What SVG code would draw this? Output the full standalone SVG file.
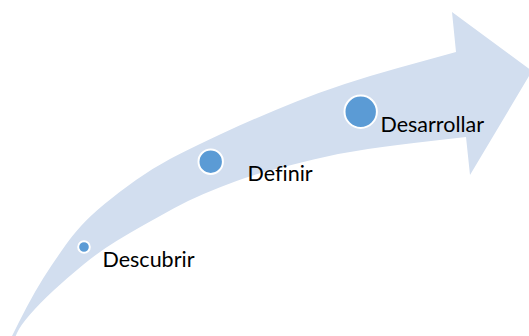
<svg xmlns="http://www.w3.org/2000/svg" width="529" height="336" viewBox="0 0 529 336">
<style>
.band{fill:#D2DEEF;stroke:none}
.dot{fill:#5B9BD5;stroke:#FFFFFF;stroke-width:2}
.lbl{font-family:Lato,"Open Sans","Liberation Sans",sans-serif;font-size:21.5px;fill:#000000;font-variant-ligatures:none;font-feature-settings:"liga" 0}
</style>
<rect width="529" height="336" fill="#FFFFFF"/>
<g id="arrow">
<path class="band" d="M10,340 L18.5,323 Q27,306 35,292 Q43,278 51.5,265.5 Q60,253 66,244.5 Q72,236 81,226 Q90,216 104.5,204 Q119,192 136,180 Q153,168 170,159 Q187,150 220,134.5 Q253,119 296.5,101.5 Q340,84 398,68 L456,52 L452,12 L532,71 L470,175 L466,137 L431,141 Q396,145 368,149 Q340,153 313.5,159.5 Q287,166 270,170.5 Q253,175 236.5,181 Q220,187 203.5,194 Q187,201 173.5,208.5 Q160,216 146.5,223.5 Q133,231 116.5,241 Q100,251 83.5,264.5 Q67,278 53.5,290.5 Q40,303 30,314.5 Q20,326 17,333 L14,340 Z"/>
</g>
<g id="connectors"></g>
<g id="descubrir">
<circle class="dot" cx="84" cy="247" r="5.8"/>
<text class="lbl" x="102.5" y="266.7">Descubrir</text>
</g>
<g id="definir">
<circle class="dot" cx="210.7" cy="161.7" r="12.2"/>
<text class="lbl" x="247.5" y="180.7">Definir</text>
</g>
<g id="desarrollar">
<circle class="dot" cx="360.7" cy="111.7" r="16.2"/>
<text class="lbl" x="380.5" y="131.7">Desarrollar</text>
</g>
</svg>
